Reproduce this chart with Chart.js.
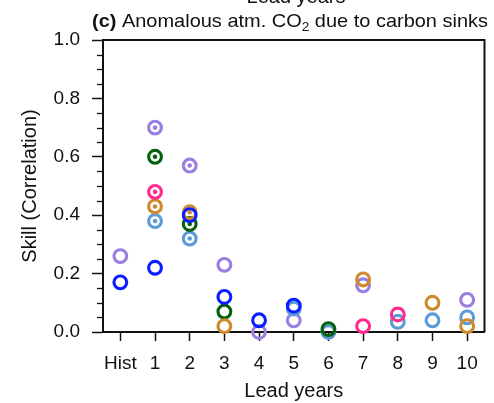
<!DOCTYPE html>
<html><head><meta charset="utf-8">
<script src="https://cdn.jsdelivr.net/npm/chart.js@4/dist/chart.umd.min.js"></script>
<style>html,body{margin:0;padding:0;background:#fff;}canvas{display:block;}</style>
</head><body>
<canvas id="c" width="494" height="403"></canvas>
<script>
// ---- data ----
const categories = ['Hist','1','2','3','4','5','6','7','8','9','10'];
const purpleValues    = [0.26, 0.70, 0.57, 0.23, 0.00, 0.04, null, 0.16, null, null, 0.11];
const greenValues     = [null, 0.60, 0.37, 0.07, null, null, 0.01, null, null, null, null];
const pinkValues      = [null, 0.48, null, null, null, null, null, 0.02, 0.06, null, null];
const orangeValues    = [null, 0.43, 0.41, 0.02, null, null, null, 0.18, null, 0.10, 0.02];
const lightBlueValues = [null, 0.38, 0.32, null, null, 0.08, 0.00, null, 0.035, 0.04, 0.05];
const blueValues      = [0.17, 0.22, 0.40, 0.12, 0.04, 0.09, null, null, null, null, null];
// 1 = marked with a centre dot (significant)
const purpleSignificant    = [0,1,1,0,0,0,0,0,0,0,0];
const greenSignificant     = [0,1,1,0,0,0,0,0,0,0,0];
const pinkSignificant      = [0,1,0,0,0,0,0,0,0,0,0];
const orangeSignificant    = [0,1,1,0,0,0,0,0,0,0,0];
const lightBlueSignificant = [0,1,1,0,0,0,0,0,0,0,0];
const blueSignificant      = [0,0,0,0,0,0,0,0,0,0,0];
const yMin = 0, yMax = 1, yMajorStep = 0.2, yMinorStep = 0.05;
const titleBold = '(c)';
const titleText = ' Anomalous atm. CO';
const titleSub = '2';
const titleRest = ' due to carbon sinks';
const xTitle = 'Lead years';
const yTitle = 'Skill (Correlation)';

// ---- styling ----
const FONT = '"Liberation Sans", Arial, Helvetica, sans-serif';
const INK = '#111111';
// top-most first
const series = [
  {values: blueValues,      sig: blueSignificant,      color: '#0a1eff'},
  {values: pinkValues,      sig: pinkSignificant,      color: '#ff2a8c'},
  {values: orangeValues,    sig: orangeSignificant,    color: '#cf8a2e'},
  {values: greenValues,     sig: greenSignificant,     color: '#04600a'},
  {values: lightBlueValues, sig: lightBlueSignificant, color: '#5b9bd8'},
  {values: purpleValues,    sig: purpleSignificant,    color: '#9a7ee0'}
];
const datasets = [];
series.forEach((s, k) => {
  datasets.push({
    data: s.values, order: 2*k+1, showLine: false, clip: false,
    pointRadius: 6.4, pointHoverRadius: 6.4, pointBorderWidth: 3.1, pointHoverBorderWidth: 3.1,
    pointBackgroundColor: 'rgba(255,255,255,0)', pointBorderColor: s.color, borderColor: s.color
  });
  datasets.push({
    data: s.values.map((v, i) => s.sig[i] ? v : null), order: 2*k, showLine: false, clip: false,
    pointRadius: 2.3, pointHoverRadius: 2.3, pointBorderWidth: 0,
    pointBackgroundColor: s.color, pointBorderColor: s.color, borderColor: s.color
  });
});

const framePlugin = {
  id: 'frame',
  beforeDatasetsDraw(chart) {
    const {ctx, chartArea: a, scales} = chart;
    ctx.save();
    ctx.strokeStyle = INK;
    ctx.lineWidth = 2;
    ctx.beginPath();
    ctx.moveTo(a.left, a.top); ctx.lineTo(a.right, a.top); ctx.lineTo(a.right, a.bottom);
    ctx.stroke();
    // minor ticks on y
    ctx.lineWidth = 1.3;
    const y = scales.y;
    const n = Math.round((yMax - yMin) / yMinorStep);
    for (let i = 0; i <= n; i++) {
      const v = yMin + i * yMinorStep;
      if (Math.abs(v / yMajorStep - Math.round(v / yMajorStep)) < 1e-6) continue;
      const py = Math.round(y.getPixelForValue(v)) + 0.5;
      ctx.beginPath(); ctx.moveTo(a.left - 6, py); ctx.lineTo(a.left, py); ctx.stroke();
    }
    ctx.restore();
  },
  afterDraw(chart) {
    const {ctx} = chart;
    ctx.save();
    ctx.fillStyle = INK;
    ctx.textBaseline = 'alphabetic';
    // cut-off label of the panel above
    ctx.font = '20px ' + FONT;
    ctx.textAlign = 'center';
    ctx.fillText(xTitle, 296, 2.5);
    // panel title
    ctx.textAlign = 'left';
    const x0 = 92, base = 27, target = 396;
    const fB = 'bold 19px ' + FONT, fN = '19px ' + FONT, fS = '13px ' + FONT;
    ctx.font = fB; const w1 = ctx.measureText(titleBold).width;
    ctx.font = fN; const w2 = ctx.measureText(titleText).width;
    ctx.font = fS; const w3 = ctx.measureText(titleSub).width;
    ctx.font = fN; const w4 = ctx.measureText(titleRest).width;
    const sx = target / (w1 + w2 + w3 + w4);
    ctx.translate(x0, 0); ctx.scale(sx, 1);
    let x = 0;
    ctx.font = fB; ctx.fillText(titleBold, x, base); x += w1;
    ctx.font = fN; ctx.fillText(titleText, x, base); x += w2;
    ctx.font = fS; ctx.fillText(titleSub, x, base + 4); x += w3;
    ctx.font = fN; ctx.fillText(titleRest, x, base);
    ctx.restore();
  }
};

Chart.defaults.font.family = FONT;
Chart.defaults.color = INK;

new Chart(document.getElementById('c'), {
  type: 'line',
  data: {labels: categories, datasets},
  options: {
    responsive: false, animation: false, devicePixelRatio: 1,
    layout: {padding: {top: 40, right: 1, left: 0, bottom: 0}},
    plugins: {legend: {display: false}, tooltip: {enabled: false}, title: {display: false}},
    scales: {
      x: {
        type: 'category', offset: true,
        grid: {display: true, offset: false, drawOnChartArea: false, drawTicks: true, tickLength: 9, tickWidth: 1.5, tickColor: INK},
        border: {display: true, width: 2, color: INK},
        ticks: {font: {size: 19}, color: INK, padding: 11, maxRotation: 0, autoSkip: false},
        title: {display: true, text: xTitle, font: {size: 20}, color: INK, padding: {top: 0, bottom: 0}},
        afterFit(s) { s.height = 71; }
      },
      y: {
        min: yMin, max: yMax,
        grid: {display: true, drawOnChartArea: false, drawTicks: true, tickLength: 11, tickWidth: 1.5, tickColor: INK},
        border: {display: true, width: 2, color: INK},
        ticks: {stepSize: yMajorStep, font: {size: 19}, color: INK, padding: 12, callback: v => Number(v).toFixed(1)},
        title: {display: true, text: yTitle, font: {size: 20}, color: INK, padding: {top: 18, bottom: 0}},
        afterFit(s) { s.width = 103; }
      }
    }
  },
  plugins: [framePlugin]
});
</script>
</body></html>
